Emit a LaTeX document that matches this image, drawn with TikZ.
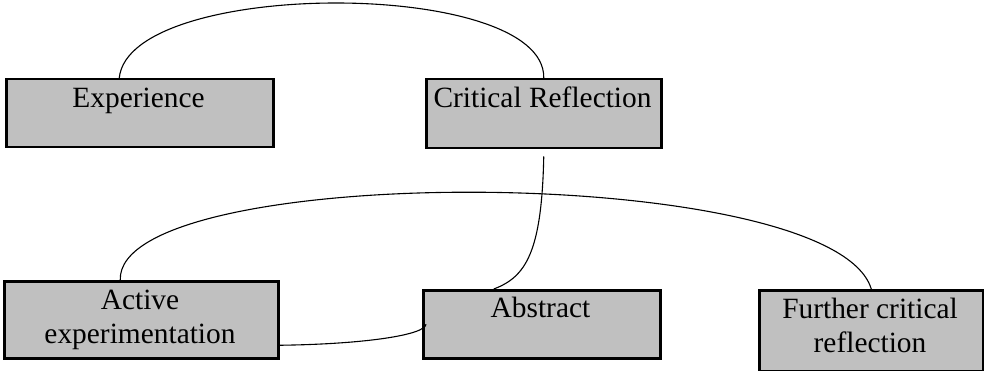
\documentclass[tikz,border=0pt]{standalone}
\usepackage{fontspec}
\setmainfont{Liberation Serif}
\usetikzlibrary{calc}
\definecolor{boxgray}{RGB}{192,192,192}
\tikzset{
  box/.style={draw=black, fill=boxgray, line width=2.5pt, inner sep=0pt, anchor=north west},
  lbl/.style={font=\fontsize{29.4}{34}\selectfont, inner sep=0pt, anchor=base, align=center},
  conn/.style={draw=black, line width=1.1pt}
}
\begin{document}
\begin{tikzpicture}[x=1pt,y=-1pt]
\useasboundingbox (0,0) rectangle (984,371);
% boxes
\node[box, minimum width=267pt, minimum height=68pt] (exp) at (5,78) {};
\node[box, minimum width=235pt, minimum height=69pt] (cr) at (425,78) {};
\node[box, minimum width=274pt, minimum height=77pt] (act) at (3,280) {};
\node[box, minimum width=237pt, minimum height=68pt] (abs) at (422,289) {};
\node[box, minimum width=224pt, minimum height=81pt] (fur) at (758,289) {};
% labels (base anchor = baseline of the last line)
\node[lbl] (expt) at (138.5,108) {Experience};
\node[lbl] (crt) at (542.5,108) {Critical Reflection};
\node[lbl] (actt) at (140,343.5) {Active\\experimentation};
\node[lbl] (abst) at (540.5,317.5) {Abstract};
\node[lbl] (furt) at (870,352) {Further critical\\reflection};
% connectors
\draw[conn] ([xshift=-20.5pt]exp.north) .. controls +(10,-100) and +(2,-100) .. (cr.north);
\draw[conn] ([yshift=-7pt]cr.south) .. controls +(-2,96) and +(32,-12) .. ([xshift=-48pt]abs.north);
\draw[conn] ([xshift=-21pt]act.north) .. controls +(-4,-119) and +(-38,-127) .. (fur.north);
\draw[conn] ([yshift=-25.5pt]act.east) .. controls +(83,-1) and +(-1,11) .. ([xshift=4pt]abs.west);
\end{tikzpicture}
\end{document}
